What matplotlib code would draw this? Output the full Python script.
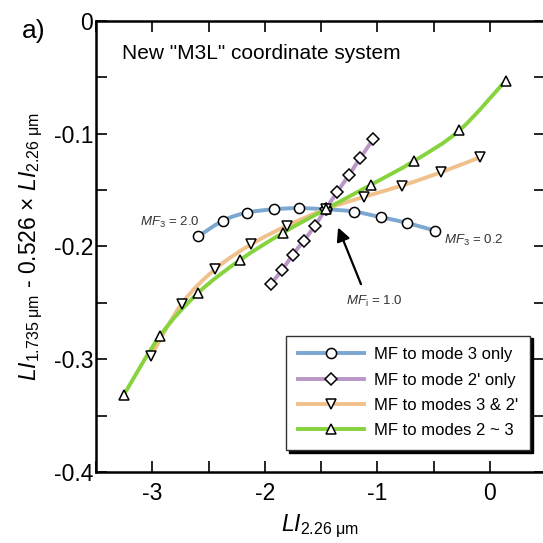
import numpy as np
import matplotlib
matplotlib.use("Agg")
import matplotlib.pyplot as plt
from matplotlib.path import Path
from matplotlib.patches import PathPatch
from matplotlib.lines import Line2D
from matplotlib.ticker import MultipleLocator, FuncFormatter

plt.rcParams['font.family'] = ['Liberation Sans', 'DejaVu Sans']
plt.rcParams['mathtext.fontset'] = 'custom'
plt.rcParams['mathtext.rm'] = 'Liberation Sans'
plt.rcParams['mathtext.it'] = 'Liberation Sans:italic'
plt.rcParams['axes.unicode_minus'] = False

# LI(2.26 um) vs LI(1.735 um) - 0.526*LI(2.26 um) for each mass-fraction scenario
mode3_x = [-2.59, -2.37, -2.16, -1.92, -1.70, -1.46, -1.21, -0.97, -0.74, -0.49]
mode3_y = [-0.191, -0.177, -0.170, -0.167, -0.166, -0.167, -0.169, -0.174, -0.179, -0.186]

mode2p_x = [-1.945, -1.847, -1.753, -1.655, -1.557, -1.46, -1.358, -1.255, -1.151, -1.038]
mode2p_y = [-0.233, -0.221, -0.2075, -0.195, -0.182, -0.167, -0.152, -0.137, -0.1215, -0.105]

modes32_x = [-3.01, -2.74, -2.44, -2.12, -1.80, -1.46, -1.12, -0.78, -0.43, -0.09]
modes32_y = [-0.297, -0.251, -0.220, -0.198, -0.1815, -0.167, -0.156, -0.146, -0.134, -0.121]

modes23_x = [-3.255, -2.93, -2.59, -2.22, -1.84, -1.46, -1.06, -0.67, -0.27, 0.14]
modes23_y = [-0.332, -0.279, -0.241, -0.212, -0.188, -0.167, -0.1455, -0.124, -0.097, -0.053]

series = [
    ('MF to mode 3 only', mode3_x, mode3_y, '#7ba7d1', 'o'),
    ("MF to mode 2' only", mode2p_x, mode2p_y, '#b996c6', 'D'),
    ("MF to modes 3 & 2'", modes32_x, modes32_y, '#f1c18b', 'v'),
    ('MF to modes 2 ~ 3', modes23_x, modes23_y, '#86d33d', '^'),
]

marker_size = {'o': 7.3, 'D': 5.8, 'v': 7.5, '^': 7.5}


def smooth_path(xs, ys):
    # Catmull-Rom segments turned into cubic Bezier pieces
    pts = np.column_stack([xs, ys])
    n = len(pts)
    verts = [pts[0]]
    codes = [Path.MOVETO]
    for i in range(n - 1):
        p0 = pts[max(i - 1, 0)]
        p1 = pts[i]
        p2 = pts[i + 1]
        p3 = pts[min(i + 2, n - 1)]
        c1 = p1 + (p2 - p0) / 6.0
        c2 = p2 - (p3 - p1) / 6.0
        verts += [c1, c2, p2]
        codes += [Path.CURVE4] * 3
    return Path(verts, codes)


fig = plt.figure(figsize=(5.43, 5.43), dpi=100)
ax = fig.add_axes([0.1768, 0.1308, 0.8269, 0.8306])

handles = []
for i, (label, xs, ys, color, mk) in enumerate(series):
    patch = PathPatch(smooth_path(xs, ys), facecolor='none', edgecolor=color,
                      lw=2.8, capstyle='round', zorder=2 + i * 0.1)
    ax.add_patch(patch)
    handles.append(Line2D([], [], color=color, lw=2.8, marker=mk,
                          markersize=marker_size[mk], markerfacecolor='white',
                          markeredgecolor='black', markeredgewidth=1.1, label=label))

for i, (label, xs, ys, color, mk) in enumerate(series):
    ax.plot(xs, ys, linestyle='none', marker=mk, markersize=marker_size[mk],
            markerfacecolor='white', markeredgecolor='black',
            markeredgewidth=1.1, zorder=5)

ax.set_xlim(-3.5, 0.49)
ax.set_ylim(-0.4, 0)

ax.xaxis.set_major_locator(MultipleLocator(1))
ax.xaxis.set_minor_locator(MultipleLocator(0.5))
ax.yaxis.set_major_locator(MultipleLocator(0.1))
ax.yaxis.set_minor_locator(MultipleLocator(0.05))
ax.xaxis.set_major_formatter(FuncFormatter(lambda v, p: '0' if abs(v) < 1e-9 else f'{v:.0f}'))
ax.yaxis.set_major_formatter(FuncFormatter(lambda v, p: '0' if abs(v) < 1e-9 else f'{v:.1f}'))

ax.tick_params(which='both', direction='in', top=True, right=True,
               length=8, width=1.2, labelsize=16.5)
ax.tick_params(axis='y', pad=2)
ax.tick_params(axis='x', pad=7)
for sp in ax.spines.values():
    sp.set_linewidth(1.8)

ax.set_xlabel(r'$LI_{2.26\ \mathrm{μm}}$', fontsize=16.5, labelpad=6)
ax.set_ylabel(r'$LI_{1.735\ \mathrm{μm}}$ - 0.526 × $LI_{2.26\ \mathrm{μm}}$',
              fontsize=16.5, labelpad=6)

ax.text(0.058, 0.9157, 'New "M3L" coordinate system', transform=ax.transAxes,
        fontsize=15, va='baseline', ha='left')
fig.text(0.040, 0.943, 'a)', fontsize=19, va='center', ha='left')

ax.text(-2.58, -0.1783, r'$MF_3$ = 2.0', fontsize=9.5, ha='right', va='center', color='#333333')
ax.text(-0.41, -0.195, r'$MF_3$ = 0.2', fontsize=9.5, ha='left', va='center', color='#333333')
ax.annotate('', xy=(-1.358, -0.1809), xytext=(-1.136, -0.2357),
            arrowprops=dict(arrowstyle='-|>', color='black', lw=1.6, mutation_scale=20))
ax.text(-1.276, -0.249, r'$MF_\mathrm{i}$ = 1.0', fontsize=9.5, ha='left', va='center', color='#333333')

leg = ax.legend(handles=handles, loc='lower right', bbox_to_anchor=(0.967, 0.049),
                borderaxespad=0, fontsize=12, handlelength=4.0, handletextpad=0.6,
                borderpad=0.7, labelspacing=0.62, fancybox=False,
                shadow={'color': 'black', 'alpha': 1}, framealpha=1,
                edgecolor='#333333')
leg.get_frame().set_linewidth(1.0)

fig.savefig('out.png', dpi=100)
